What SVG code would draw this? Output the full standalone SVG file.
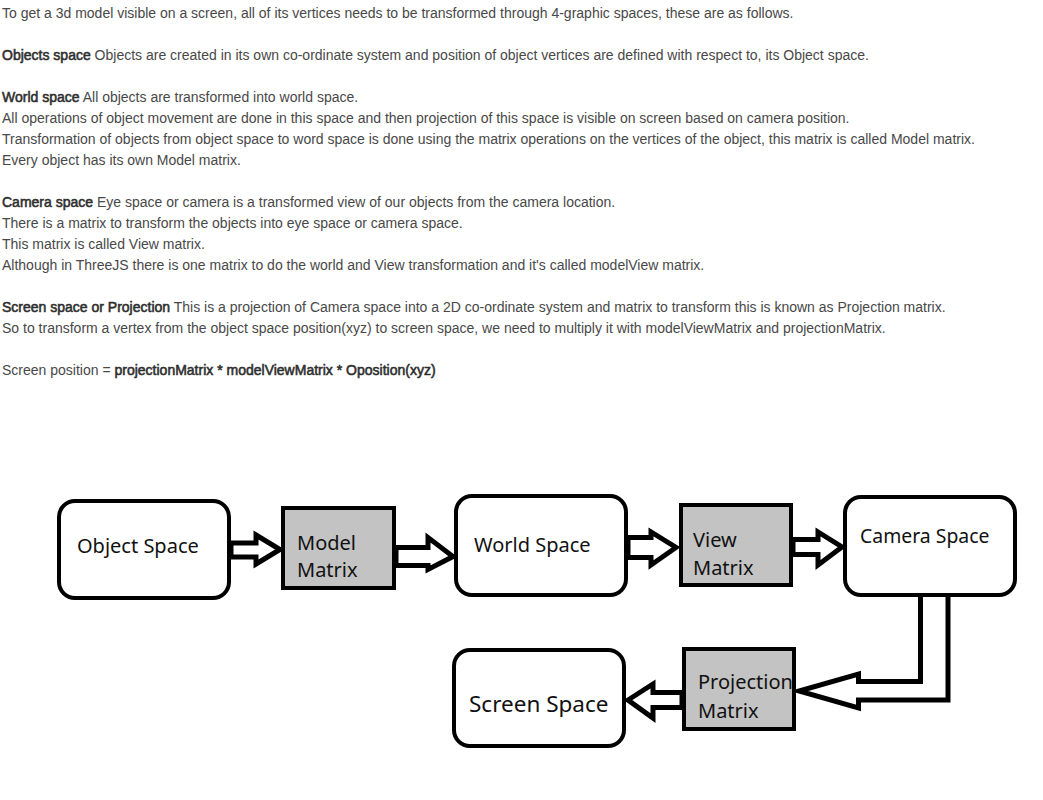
<svg xmlns="http://www.w3.org/2000/svg" width="1043" height="800" viewBox="0 0 1043 800">
<style>
.t{font-family:"Liberation Sans",Arial,sans-serif;font-size:14px;fill:#484848}
.b{fill:#2e2e2e;stroke:#2e2e2e;stroke-width:0.55px}
.space{fill:#fff;stroke:#000;stroke-width:4}
.mat{fill:#c3c3c3;stroke:#000;stroke-width:4}
.lbl{font-family:"Noto Sans","Open Sans",sans-serif;font-size:20px;fill:#111}
.arr{fill:#fff;stroke:#000;stroke-width:5;stroke-linejoin:miter}
</style>
<rect width="1043" height="800" fill="#fff"/>
<g id="text">
<text class="t" x="2" y="18">To get a 3d model visible on a screen, all of its vertices needs to be transformed through 4-graphic spaces, these are as follows.</text>
<text class="t" x="2" y="60"><tspan class="b">Objects space</tspan> Objects are created in its own co-ordinate system and position of object vertices are defined with respect to, its Object space.</text>
<text class="t" x="2" y="102"><tspan class="b">World space</tspan> All objects are transformed into world space.</text>
<text class="t" x="2" y="123">All operations of object movement are done in this space and then projection of this space is visible on screen based on camera position.</text>
<text class="t" x="2" y="144">Transformation of objects from object space to word space is done using the matrix operations on the vertices of the object, this matrix is called Model matrix.</text>
<text class="t" x="2" y="165">Every object has its own Model matrix.</text>
<text class="t" x="2" y="207"><tspan class="b">Camera space</tspan> Eye space or camera is a transformed view of our objects from the camera location.</text>
<text class="t" x="2" y="228">There is a matrix to transform the objects into eye space or camera space.</text>
<text class="t" x="2" y="249">This matrix is called View matrix.</text>
<text class="t" x="2" y="270">Although in ThreeJS there is one matrix to do the world and View transformation and it's called modelView matrix.</text>
<text class="t" x="2" y="312"><tspan class="b">Screen space or Projection</tspan> This is a projection of Camera space into a 2D co-ordinate system and matrix to transform this is known as Projection matrix.</text>
<text class="t" x="2" y="333">So to transform a vertex from the object space position(xyz) to screen space, we need to multiply it with modelViewMatrix and projectionMatrix.</text>
<text class="t" x="2" y="375">Screen position = <tspan class="b">projectionMatrix * modelViewMatrix * Oposition(xyz)</tspan></text>
</g>
<g id="connectors">
<polygon class="arr" points="231,543 256,543 256,535 280,549.5 256,564 256,557 231,557"/>
<polygon class="arr" points="396,547.5 428,547.5 428,537.5 453,556.5 428,569.5 428,565.5 396,565.5"/>
<polygon class="arr" points="628,537.5 651,537.5 651,532 676,547.5 651,565 651,557.5 628,557.5"/>
<polygon class="arr" points="793,539.5 818,539.5 818,532 842,547 818,565 818,554.5 793,554.5"/>
<path class="arr" d="M920.5,597 V681.5 H858.5 V674 L799,691 L858.5,708 V700 H948 V597"/>
<polygon class="arr" points="682,692.5 653,692.5 653,684 628,700 653,718 653,707.5 682,707.5"/>
</g>
<g id="object-space">
<rect class="space" x="59" y="501" width="170" height="97" rx="16"/>
<text class="lbl" x="77" y="553">Object Space</text>
</g>
<g id="model-matrix">
<rect class="mat" x="283" y="508" width="111" height="80"/>
<text class="lbl" x="297" y="550">Model</text>
<text class="lbl" x="297" y="577">Matrix</text>
</g>
<g id="world-space">
<rect class="space" x="456" y="496" width="170" height="99" rx="16"/>
<text class="lbl" x="474" y="552">World Space</text>
</g>
<g id="view-matrix">
<rect class="mat" x="681" y="505" width="110" height="80"/>
<text class="lbl" x="693" y="547">View</text>
<text class="lbl" x="693" y="575">Matrix</text>
</g>
<g id="camera-space">
<rect class="space" x="845" y="497" width="170" height="98" rx="16"/>
<text class="lbl" x="860" y="543" style="font-size:19.4px">Camera Space</text>
</g>
<g id="projection-matrix">
<rect class="mat" x="684" y="649" width="110" height="80"/>
<text class="lbl" x="698" y="689">Projection</text>
<text class="lbl" x="698" y="718">Matrix</text>
</g>
<g id="screen-space">
<rect class="space" x="454" y="650" width="170" height="96" rx="16"/>
<text class="lbl" x="469" y="712" style="font-size:22.5px">Screen Space</text>
</g>
</svg>
